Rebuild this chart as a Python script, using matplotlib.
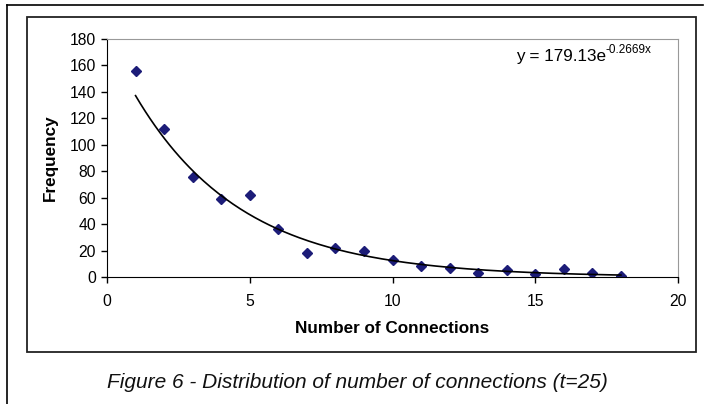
import matplotlib.pyplot as plt
import numpy as np
from matplotlib.patches import Rectangle

plt.rcParams['font.family'] = ['Liberation Sans', 'DejaVu Sans']

connections = [1, 2, 3, 4, 5, 6, 7, 8, 9, 10, 11, 12, 13, 14, 15, 16, 17, 18]
frequency = [156, 112, 76, 59, 62, 36, 18, 22, 20, 13, 8, 7, 3, 5, 2, 6, 3, 1]

# trendline coefficients as printed on the chart
fit_a = 179.13
fit_b = -0.2669

W, H = 706, 404
fig = plt.figure(figsize=(W / 100, H / 100), dpi=100)

# outer page frame (only left and top visible)
fig.add_artist(plt.Line2D([7 / W, 7 / W], [0, 1 - 5 / H], color='black', lw=1.2))
fig.add_artist(plt.Line2D([7 / W, 703 / W], [1 - 5 / H, 1 - 5 / H], color='black', lw=1.2))

# chart frame
fig.add_artist(Rectangle((27 / W, 1 - 352 / H), (696 - 27) / W, (352 - 17) / H,
                         transform=fig.transFigure, fill=False, ec='#222222', lw=1.3))

ax = fig.add_axes([107 / W, 1 - 277 / H, (678 - 107) / W, (277 - 39) / H])

ax.plot(connections, frequency, linestyle='none', marker='D', markersize=5.5,
        color='#1c1c78')

xs = np.linspace(connections[0], connections[-1], 200)
ax.plot(xs, fit_a * np.exp(fit_b * xs), color='black', lw=1.2)

ax.set_xlim(0, 20)
ax.set_ylim(0, 180)
ax.set_xticks([0, 5, 10, 15, 20])
ax.set_yticks(range(0, 181, 20))
ax.tick_params(axis='both', labelsize=11.3, length=4, width=1, color='black')
ax.tick_params(axis='x', pad=8)
ax.tick_params(axis='y', pad=4)

for s in ['top', 'right']:
    ax.spines[s].set_color('#999999')
for s in ['left', 'bottom']:
    ax.spines[s].set_color('black')

ax.set_xlabel('Number of Connections', fontsize=12.3, fontweight='bold', labelpad=9)
ax.set_ylabel('Frequency', fontsize=12.3, fontweight='bold', labelpad=8)

eq = ax.text(0.716, 0.925, 'y = 179.13e', transform=ax.transAxes,
             ha='left', va='center', fontsize=12.3)
ax.annotate('-0.2669x', xy=(1, 0.55), xycoords=eq, ha='left', va='bottom',
            fontsize=8.5)

fig.text(357 / W, 1 - 382 / H, 'Figure 6 - Distribution of number of connections (t=25)',
         ha='center', va='center', fontsize=15, style='italic', color='#111111')

fig.savefig('out.png', dpi=100)
